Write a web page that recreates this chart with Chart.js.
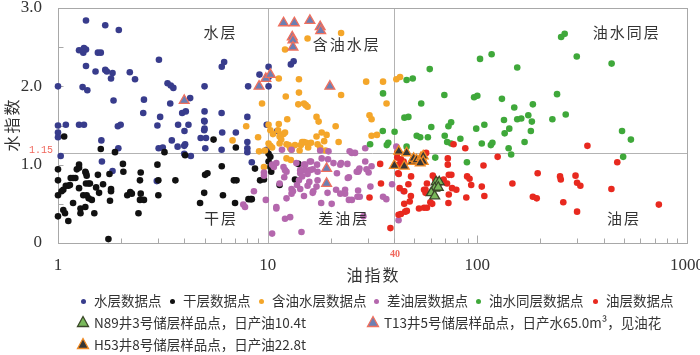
<!DOCTYPE html>
<html><head><meta charset="utf-8">
<script src="https://cdn.jsdelivr.net/npm/chart.js@4.4.1/dist/chart.umd.min.js"></script>
<style>
html,body{margin:0;padding:0;background:#fff;}
#wrap{position:relative;width:700px;height:355px;overflow:hidden;background:#fff;}
#c{position:absolute;left:0;top:0;}
.lg{position:absolute;white-space:nowrap;font-family:"Noto Sans CJK SC","Noto Sans",sans-serif;font-size:13.5px;line-height:16px;color:#333;}
.mk{position:absolute;}
</style>
</head><body>
<div id="wrap"><canvas id="c" width="700" height="355"></canvas><div id="legend"></div></div>
<script>
// ---------- data ----------
const xTicks = [1, 10, 100, 1000];
const yTicks = [0, 1, 2, 3];
const xMinorTicks = [2,3,4,5,6,7,8,9,20,30,40,50,60,70,80,90,200,300,400,500,600,700,800,900];
const xMajorInner = [100];
const yMinorTicks = [0.5, 1.0, 1.5, 2.0, 2.5];
const refX = [10, 40];
const refY = [1.15];

const waterPts = [[1.36,2.84],[1.68,2.78],[1.95,2.72],[1.26,2.46],[1.31,2.46],[1.33,2.49],[1.36,2.47],[1.32,2.43],
[1.55,2.43],[1.60,2.43],[1.36,2.26],[1.51,2.19],[1.68,2.21],[1.71,2.19],[1.82,2.17],[1.79,2.10],
[2.20,2.18],[2.33,2.09],[1.31,1.99],[1.38,1.95],[1.0,2.0],[1.84,1.82],[2.57,1.83],[2.55,1.66],[3.03,2.34],
[3.33,2.04],[3.45,2.01],[3.55,1.98],[3.43,1.78],[4.27,1.85],[3.91,1.66],[4.07,1.68],
[5.0,2.0],[5.0,1.68],[6.04,2.25],[6.2,2.31],[6.03,1.66],[3.07,1.61],
[1.0,1.50],[1.09,1.51],[1.26,1.51],[1.33,1.51],[1.93,1.49],[1.99,1.51],
[2.98,1.50],[3.74,1.51],[4.19,1.51],[4.01,1.43],[4.98,1.56],[4.98,1.44],
[6.07,1.41],[7.05,1.41],[1.0,1.41],[1.0,1.35],[1.61,1.31],[1.94,1.21],
[3.02,1.21],[3.16,1.22],[3.49,1.31],[3.72,1.23],[4.04,1.26],[4.79,1.34],[5.08,1.34],
[5.04,1.21],[6.03,1.19],[8.0,1.61],[8.0,1.29],[8.0,1.21],[8.0,1.16],
[1.03,1.11],[4.3,1.11],[4.0,1.14],[1.62,1.04],[1.82,0.92],[2.96,0.79],[5.0,1.55],[5.0,1.46],
[8.07,2.0],[9.14,2.15],[10.1,2.25],[10.1,2.12],[10.1,2.0],[8.4,1.03],[9.9,1.51],[9.9,1.19],
[12.9,2.28],[13.3,2.32],[11.1,1.43],[4.0,1.24]];

const dryPts = [[1.0,0.94],[1.0,0.80],[1.0,0.61],[1.0,0.34],[1.06,0.68],[1.04,0.66],[1.09,0.73],[1.12,0.73],[1.14,0.74],
[1.15,0.83],[1.18,0.83],[1.21,0.83],[1.23,0.94],[1.26,1.0],[1.26,0.96],[1.35,0.91],[1.36,0.89],[1.37,0.86],
[1.06,0.42],[1.08,0.38],[1.12,0.28],[1.18,0.51],[1.26,0.70],[1.28,0.44],[1.28,0.38],[1.35,0.46],
[1.32,0.61],[1.37,0.61],[1.40,0.57],[1.45,0.55],[1.36,0.76],[1.40,0.76],[1.42,0.76],
[1.49,0.38],[1.52,0.71],[1.55,0.87],[1.57,0.64],[1.64,0.75],[1.76,0.88],[1.77,0.54],[1.79,0.69],[1.79,0.66],
[1.74,0.05],[1.60,1.20],[1.87,1.16],[2.04,1.01],[2.05,0.91],[2.14,0.61],[2.21,0.65],[2.25,0.63],[2.42,0.38],
[2.46,0.80],[2.48,0.63],[2.46,0.55],[2.57,0.55],[2.48,0.90],[2.98,1.0],[3.01,0.80],[3.01,0.61],[3.22,1.16],
[3.63,0.80],[4.04,1.12],[4.76,0.51],[4.98,0.64],[5.03,0.87],[5.16,0.89],[5.52,1.32],[6.04,0.98],[6.12,0.61],
[6.9,0.80],[7.1,0.80],[6.99,0.51],[7.05,1.22],[8.7,0.95],[9.2,0.80],[9.6,0.81],[8.1,0.56],[8.3,0.56],[8.4,0.56],
[10.1,1.04],[10.3,0.97],[11.4,0.74],[13.5,0.81],[14.0,1.01],[10.1,1.14],[10.3,1.10],[10.4,0.91],[1.07,1.36]];

const oilWaterPts = [[11.3,2.10],[14.1,2.09],[14.1,1.92],[12.2,1.87],[9.4,1.78],[14.0,1.77],
[14.9,1.78],[15.2,1.76],[15.5,1.74],[22.4,1.89],[17.1,1.61],[17.5,1.55],[12.4,1.58],[21.1,1.49],[7.9,1.49],
[10.1,1.51],[10.3,1.44],[11.3,1.52],[11.2,1.44],[12.1,1.41],[11.9,1.39],[11.5,1.38],[11.4,1.36],[11.6,1.32],
[10.6,1.39],[9.0,1.35],[6.8,1.31],[10.1,1.27],[10.3,1.24],[10.5,1.22],[11.4,1.27],[12.3,1.26],[12.6,1.25],
[12.8,1.21],[13.0,1.19],[13.5,1.25],[14.4,1.25],[14.6,1.29],[14.9,1.29],[15.3,1.28],[16.1,1.28],[17.1,1.36],
[17.3,1.26],[17.8,1.22],[18.1,1.41],[19.1,1.38],[18.6,1.30],[21.8,1.29],[14.2,1.18],[15.6,1.22],[18.9,1.18],
[9.7,1.18],[9.6,0.97],[12.3,1.08],[12.9,1.06],[29.5,2.06],[35.5,2.06],[41.1,2.09],[42.8,2.12],[36.9,1.78],
[30.6,1.63],[31.3,1.58],[31.3,1.37],[33.2,1.38],[22.4,2.68],[15.5,2.61],[12.1,2.47],[9.1,1.17]];

const poorOilPts = [[10.5,0.12],[14.5,0.14],[12.1,0.31],[12.8,0.33],[11.0,0.46],[8.6,0.66],[7.8,0.46],[7.65,0.49],[9.8,0.55],
[9.6,0.90],[9.6,0.86],[10.5,1.0],[10.7,0.97],[11.0,1.02],[12.0,0.84],[12.1,0.93],[11.4,0.76],
[13.0,0.69],[13.0,0.63],[14.3,0.89],[14.6,0.85],[15.1,0.93],[13.7,1.02],[14.9,1.0],
[16.1,1.04],[16.4,0.94],[15.5,0.88],[17.2,1.0],[18.1,1.08],[19.4,1.07],
[15.8,0.78],[15.5,0.73],[17.3,0.80],[17.1,0.72],[14.9,0.60],[14.3,0.69],[16.4,0.64],[18.0,0.51],[19.3,0.64],
[21.4,0.89],[21.2,0.68],[22.4,1.02],[24.0,1.01],[23.4,0.68],[23.4,0.63],[24.4,0.55],
[24.1,0.83],[27.0,0.91],[27.4,0.95],[25.2,1.15],[29.2,1.04],[31.3,0.98],[27.0,0.67],[24.4,0.84],
[35.5,0.59],[36.8,0.56],[39.2,0.75],[42.1,0.29],[41.1,1.23],[13.8,0.74],[14.1,0.80],
[29.2,1.21],[27.2,0.93],[26.6,0.91],[30.3,0.90],[30.9,0.72],[26.8,0.59],[27.5,0.59],[44.5,0.66],[28.6,0.34],[25.2,0.55],
[11.0,0.44],[12.3,0.57],[13.2,0.66],[16.5,0.66],[20.2,0.50],[22.2,0.63],
[11.7,1.19],[13.0,1.19],[17.8,1.18],[19.5,1.17],[24.6,1.17],[26.1,1.15],[20.6,1.02],[22.2,1.0],[29.6,0.94],
[15.9,1.04],[15.1,1.0],[14.3,0.93],[11.9,0.97],[12.3,0.91],[15.9,0.93],[17.3,0.91]];

const mixedPts = [[251,2.63],[261,2.67],[298,2.38],[437,2.29],[117,2.41],[103,2.35],[155,2.24],[59.3,2.22],
[49.2,2.10],[46.0,2.08],[69.6,1.89],[54.0,1.78],[96.5,1.86],[100,1.88],[131,1.84],[240,1.90],
[150,1.73],[184,1.77],[35.5,1.91],[44.9,1.60],[46.9,1.61],[72.8,1.49],[75.0,1.54],[60.3,1.48],
[98.8,1.46],[108,1.51],[134,1.57],[155,1.58],[162,1.59],[175,1.63],[182,1.55],[228,1.58],[264,1.64],
[142,1.46],[135,1.40],[180,1.43],[35.4,1.43],[40.3,1.42],[51.4,1.37],[53.4,1.35],[58.1,1.35],
[69.9,1.37],[71.8,1.29],[75.0,1.27],[83.0,1.33],[105,1.27],[116,1.25],[118,1.28],[141,1.21],[145,1.13],
[168,1.29],[490,1.43],[540,1.32],[496,1.10],[37.0,1.25],[37.6,1.28],[46.0,1.23],[63.0,1.09],[89.2,1.03],[30.8,1.26]];

const oilPts = [[38.5,0.19],[42.1,0.36],[43.2,0.37],[45.3,0.40],[46.1,0.41],[52.7,0.44],[55.7,0.45],[57.5,0.45],[60.9,0.50],
[44.8,0.50],[48.2,0.60],[42.6,0.70],[44.8,0.66],[41.9,0.89],[42.2,0.88],[46.9,0.75],[48.3,0.85],
[42.2,1.0],[44.5,1.04],[34.4,1.01],[34.7,0.76],[30.6,0.58],[57.0,1.15],[57.5,0.76],[55.7,0.68],[56.6,0.68],
[61.3,0.86],[63.0,0.81],[72.3,1.0],[73.1,0.87],[75.2,0.87],[69.1,0.81],[71.7,0.76],[75.8,0.70],[79.4,0.68],
[73.1,0.62],[72.8,0.51],[89.4,0.85],[91.8,0.82],[87.6,1.21],[93.5,0.74],[88.6,0.58],[105,0.72],[108,0.60],
[107,0.99],[125,1.10],[147,0.76],[184,0.59],[192,0.57],[194,0.89],[248,0.85],[250,0.81],[257,0.52],
[294,0.86],[299,0.77],[310,0.73],[299,0.40],[335,1.24],[436,0.69],[465,1.03],[734,0.49],
[77.0,1.26],[72.3,1.08],[56.6,0.64],[59.7,0.52],[43.2,1.07],[41.5,1.09],[47.6,0.53],[41.5,1.15],[43.1,1.02]];

const n89Pts = [[63.6,0.78],[65.8,0.78],[62.6,0.70],[65.1,0.71],[60.3,0.64],[62.6,0.60]];
const t13Pts = [[11.9,2.81],[13.4,2.81],[15.9,2.84],[17.8,2.76],[17.9,2.71],[13.1,2.63],[13.2,2.59],[13.2,2.50],
[9.1,2.0],[9.8,2.10],[10.3,2.15],[19.8,2.0],[4.0,1.82],[19.1,0.95],[19.1,0.76]];
const h53Pts = [[42.2,1.17],[46.0,1.15],[40.2,0.99],[44.8,0.98],[48.8,1.04],[49.7,1.08],[51.3,1.06],[53.9,1.09],
[55.2,1.11],[55.2,1.04],[53.4,1.02]];

const dotSeriesNames = ['水层数据点','干层数据点','含油水层数据点','差油层数据点','油水同层数据点','油层数据点'];
const triSeriesNames = ['N89井3号储层样品点，日产油10.4t','T13井5号储层样品点，日产水65.0m³，见油花','H53井8号储层样品点，日产油22.8t'];
const regionNames = ['水层','含油水层','油水同层','干层','差油层','油层'];
const regionAt = [[5.9,2.69],[23.6,2.54],[511,2.69],[5.93,0.31],[22.8,0.31],[495,0.31]];
const xTitle = '油指数';
const yTitle = '水指数';

// ---------- styles ----------
const dotColors = ['#383c8c','#111111','#f4a62a','#b467ad','#3fa83a','#e8291f'];
const triFill = ['#79b95b','#6c7fb3','#363636'];
const triEdge = ['#3a4728','#f0705e','#f08a24'];
const dotData = [waterPts, dryPts, oilWaterPts, poorOilPts, mixedPts, oilPts];
const triData = [n89Pts, t13Pts, h53Pts];

const toXY = a => a.map(p => ({x:p[0], y:p[1]}));
const datasets = [];
dotData.forEach((d,i) => datasets.push({
  label: dotSeriesNames[i], data: toXY(d), backgroundColor: dotColors[i], borderWidth: 0,
  pointRadius: 3.3, pointHoverRadius: 3.3, order: 10 - i, clip: false
}));
triData.forEach((d,i) => datasets.push({
  label: triSeriesNames[i], data: toXY(d), pointStyle: 'triangle', backgroundColor: triFill[i],
  borderColor: triEdge[i], borderWidth: 1.3, pointRadius: 5.7, pointHoverRadius: 5.7, order: 2 - i*0.1, clip: false
}));

const deco = {
  id: 'deco',
  beforeDatasetsDraw(chart) {
    const {ctx, chartArea: a, scales: {x, y}} = chart;
    ctx.save();
    ctx.strokeStyle = '#b3b3b3'; ctx.lineWidth = 1;
    ctx.beginPath();
    refX.forEach(v => { const p = Math.round(x.getPixelForValue(v)) + 0.5; ctx.moveTo(p, a.top); ctx.lineTo(p, a.bottom); });
    refY.forEach(v => { const p = Math.round(y.getPixelForValue(v)) + 0.5; ctx.moveTo(a.left, p); ctx.lineTo(a.right, p); });
    ctx.stroke();
    ctx.strokeStyle = '#a8a8a8';
    ctx.strokeRect(Math.round(a.left) + 0.5, Math.round(a.top) + 0.5, Math.round(a.right - a.left), Math.round(a.bottom - a.top));
    ctx.beginPath();
    const b = Math.round(a.bottom) + 0.5, l = Math.round(a.left) + 0.5;
    xMinorTicks.forEach(v => { const p = Math.round(x.getPixelForValue(v)) + 0.5; ctx.moveTo(p, b); ctx.lineTo(p, b - 5); });
    xMajorInner.forEach(v => { const p = Math.round(x.getPixelForValue(v)) + 0.5; ctx.moveTo(p, b); ctx.lineTo(p, b - 8); });
    yMinorTicks.forEach(v => { const p = Math.round(y.getPixelForValue(v)) + 0.5; ctx.moveTo(l, p); ctx.lineTo(l + 5, p); });
    ctx.stroke();
    ctx.restore();
  },
  afterDatasetsDraw(chart) {
    const {ctx, chartArea: a, scales: {x, y}} = chart;
    ctx.save();
    ctx.fillStyle = '#333';
    ctx.textAlign = 'center'; ctx.textBaseline = 'middle';
    ctx.font = '15px "Noto Sans CJK SC"';
    if ('letterSpacing' in ctx) ctx.letterSpacing = '2px';
    regionNames.forEach((t, i) => {
      ctx.fillText(t, x.getPixelForValue(regionAt[i][0]) + 1, y.getPixelForValue(regionAt[i][1]));
    });
    ctx.font = '16px "Noto Sans CJK SC"';
    if ('letterSpacing' in ctx) ctx.letterSpacing = '2px';
    ctx.fillText(xTitle, (a.left + a.right) / 2 + 1, 275);
    ctx.save();
    ctx.translate(12, (a.top + a.bottom) / 2);
    ctx.rotate(-Math.PI / 2);
    ctx.fillText(yTitle, 1, 0);
    ctx.restore();
    if ('letterSpacing' in ctx) ctx.letterSpacing = '0px';
    ctx.fillStyle = '#f0675c';
    ctx.font = '10px "Liberation Mono"';
    ctx.textAlign = 'right';
    refY.forEach(v => ctx.fillText(String(v), a.left - 5, y.getPixelForValue(v) - 3));
    ctx.textAlign = 'center';
    ctx.font = 'bold 10px "Liberation Serif"';
    ctx.fillText(String(refX[1]), x.getPixelForValue(refX[1]) + 1, a.bottom + 11);
    ctx.restore();
  }
};

new Chart(document.getElementById('c'), {
  type: 'scatter',
  data: { datasets },
  options: {
    responsive: false, animation: false, events: [],
    layout: { padding: { left: 0, top: 8, right: 13, bottom: 0 } },
    plugins: { legend: { display: false }, tooltip: { enabled: false } },
    scales: {
      x: {
        type: 'logarithmic', min: 1, max: 1000,
        grid: { display: false }, border: { display: false },
        afterBuildTicks: s => { s.ticks = xTicks.map(v => ({ value: v })); },
        afterFit: s => { s.height = 112; s.paddingLeft = 0; s.paddingRight = 0; },
        ticks: { autoSkip: false, maxRotation: 0, minRotation: 0, padding: 4, color: '#333',
          font: { family: 'Liberation Serif', size: 17 }, callback: v => String(v) }
      },
      y: {
        min: 0, max: 3,
        grid: { display: false }, border: { display: false },
        afterBuildTicks: s => { s.ticks = yTicks.map(v => ({ value: v })); },
        afterFit: s => { s.width = 58; s.paddingTop = 0; s.paddingBottom = 0; },
        ticks: { padding: 8, color: '#333', font: { family: 'Liberation Serif', size: 17 },
          callback: v => v === 0 ? '0' : Number(v).toFixed(1) }
      }
    }
  },
  plugins: [deco]
});

// ---------- HTML legend ----------
const lg = document.getElementById('legend');
function addText(t, left, cy) {
  const d = document.createElement('div'); d.className = 'lg'; d.textContent = t;
  d.style.left = left + 'px'; d.style.top = (cy - 8) + 'px'; lg.appendChild(d);
}
function addDot(color, cx, cy) {
  const d = document.createElement('div'); d.className = 'mk';
  d.style.cssText += `left:${cx-2.5}px;top:${cy-2.5}px;width:5px;height:5px;border-radius:50%;background:${color}`;
  lg.appendChild(d);
}
function addTri(fill, edge, cx, cy) {
  const s = document.createElementNS('http://www.w3.org/2000/svg', 'svg');
  s.setAttribute('width', '14'); s.setAttribute('height', '13');
  s.setAttribute('class', 'mk'); s.style.left = (cx - 7) + 'px'; s.style.top = (cy - 7) + 'px'; s.style.position = 'absolute';
  const p = document.createElementNS('http://www.w3.org/2000/svg', 'polygon');
  p.setAttribute('points', '7,1.5 12.5,11.5 1.5,11.5');
  p.setAttribute('fill', fill); p.setAttribute('stroke', edge); p.setAttribute('stroke-width', '1.3');
  s.appendChild(p); lg.appendChild(s);
}
const row1 = 300, row2 = 322, row3 = 344;
const dotX = [83, 172, 261, 376, 478, 595];
dotSeriesNames.forEach((t, i) => { addDot(dotColors[i], dotX[i], row1 + 1); addText(t, dotX[i] + 11, row1); });
const triPos = [[83, row2], [373, row2], [83, row3]];
triSeriesNames.forEach((t, i) => { addTri(triFill[i], triEdge[i], triPos[i][0], triPos[i][1]); addText(t, triPos[i][0] + 11, triPos[i][1]); });
</script>
</body></html>
